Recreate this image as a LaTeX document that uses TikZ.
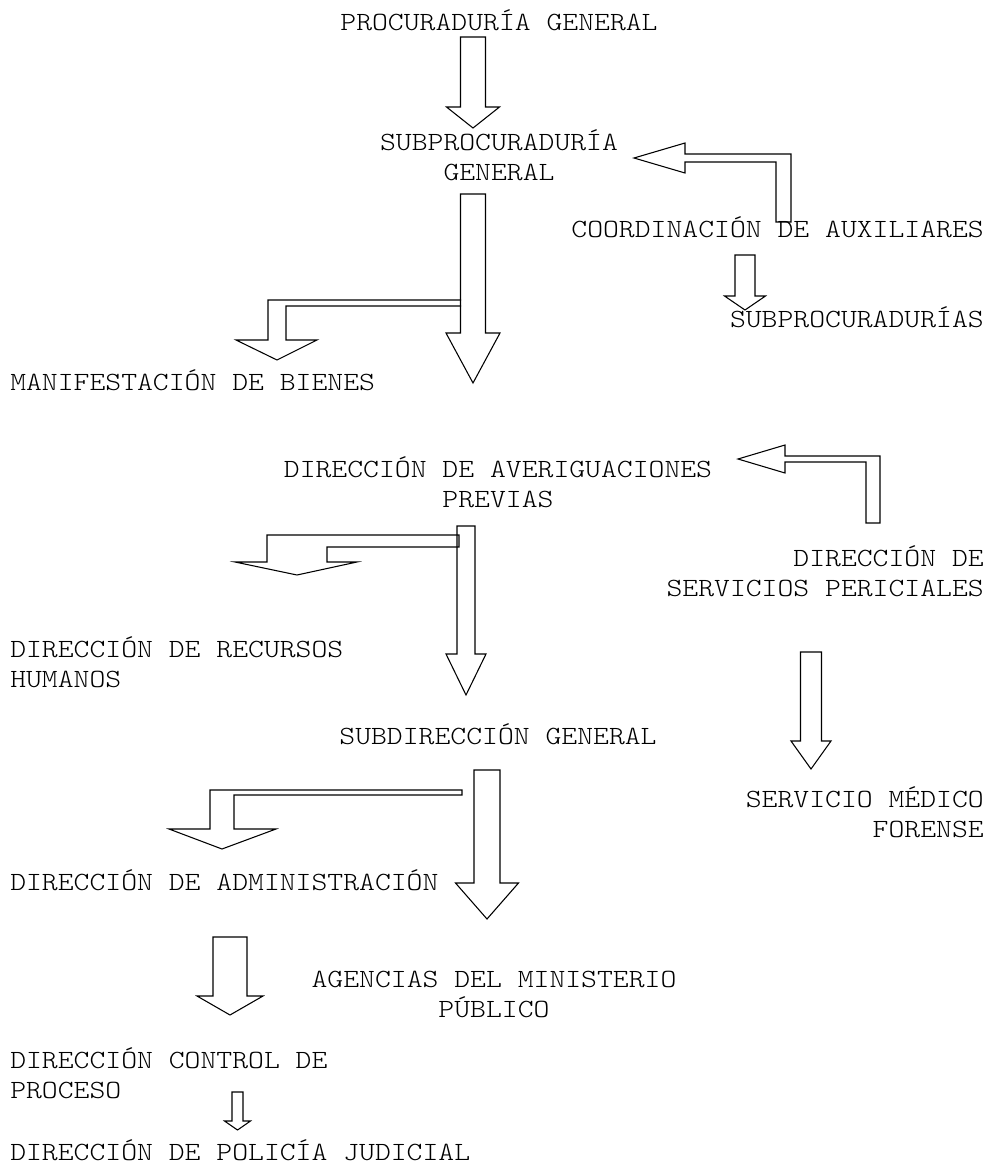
\documentclass[tikz,border=0pt]{standalone}
\usepackage{fontspec}
\newfontfamily\orgfont[FakeStretch=1.15]{lmmonolt10-regular.otf}
\tikzset{
  lbl/.style={inner sep=0pt, font=\orgfont\fontsize{19.7}{22.5}\selectfont},
  blk/.style={draw, line width=0.8pt, line join=miter}
}
% straight block arrow pointing down: centre x, shaft half, head half, top, head base, tip
\newcommand{\downblock}[6]{%
  \draw[blk] ({#1-#2},#4) -- ({#1-#2},#5) -- ({#1-#3},#5) -- (#1,#6)
    -- ({#1+#3},#5) -- ({#1+#2},#5) -- ({#1+#2},#4) -- cycle;}
\begin{document}
\begin{tikzpicture}[x=0.75pt,y=-0.75pt]

    \useasboundingbox (0,0) rectangle (987,1167);

    \node[lbl, anchor=base] (procgen) at (499,30) {PROCURADURÍA GENERAL};
    \node[lbl, anchor=base, align=center] (subproc) at (499,180) {SUBPROCURADURÍA\\GENERAL};
    \node[lbl, anchor=base east] (coord) at (984,237) {COORDINACIÓN DE AUXILIARES};
    \node[lbl, anchor=base east] (subprocs) at (984,327) {SUBPROCURADURÍAS};
    \node[lbl, anchor=base west] (bienes) at (10,390) {MANIFESTACIÓN DE BIENES};
    \node[lbl, anchor=base, align=center] (averig) at (498,507) {DIRECCIÓN DE AVERIGUACIONES\\PREVIAS};
    \node[lbl, anchor=base east, align=right] (peric) at (984,596) {DIRECCIÓN DE\\SERVICIOS PERICIALES};
    \node[lbl, anchor=base west, align=left] (rrhh) at (10,687) {DIRECCIÓN DE RECURSOS\\HUMANOS};
    \node[lbl, anchor=base] (subdir) at (498,744) {SUBDIRECCIÓN GENERAL};
    \node[lbl, anchor=base east, align=right] (semefo) at (984,837) {SERVICIO MÉDICO\\FORENSE};
    \node[lbl, anchor=base west] (admin) at (10,890) {DIRECCIÓN DE ADMINISTRACIÓN};
    \node[lbl, anchor=base, align=center] (agencias) at (494,1017) {AGENCIAS DEL MINISTERIO\\PÚBLICO};
    \node[lbl, anchor=base west, align=left] (control) at (10,1098) {DIRECCIÓN CONTROL DE\\PROCESO};
    \node[lbl, anchor=base west] (policia) at (10,1160) {DIRECCIÓN DE POLICÍA JUDICIAL};

    \downblock{473}{12.5}{26.5}{37}{107}{128}
    \draw[blk] (776,222) -- (776,162) -- (685,162) -- (685,173) -- (634,158)
      -- (685,143) -- (685,154) -- (791,154) -- (791,222) -- cycle;
    \downblock{745}{10}{20.5}{255}{296}{310}

    \downblock{473}{12.5}{27}{194}{333}{383}
    \draw[blk] (461,300) -- (268,300) -- (268,340) -- (236,340) -- (277,360)
      -- (317,340) -- (286,340) -- (286,306) -- (461,306);

    \draw[blk] (866,523) -- (866,462) -- (785,462) -- (785,473) -- (738,459)
      -- (785,445) -- (785,456) -- (880,456) -- (880,523) -- cycle;

    \downblock{466}{9}{20}{526}{654}{695}
    \draw[blk] (459,535) -- (267,535) -- (267,562) -- (235,562) -- (297,575)
      -- (357,562) -- (327,562) -- (327,547) -- (459,547) -- cycle;

    \downblock{811}{10.5}{20}{652}{741}{769}

    \downblock{487}{13}{31.5}{770}{883}{919}
    \draw[blk] (462,790) -- (210,790) -- (210,829) -- (169,829) -- (222,849)
      -- (276,829) -- (234,829) -- (234,795) -- (462,795) -- cycle;

    \downblock{230}{17}{33}{937}{996}{1015}
    \downblock{237.5}{5.5}{13}{1092}{1121}{1130}

\end{tikzpicture}
\end{document}
